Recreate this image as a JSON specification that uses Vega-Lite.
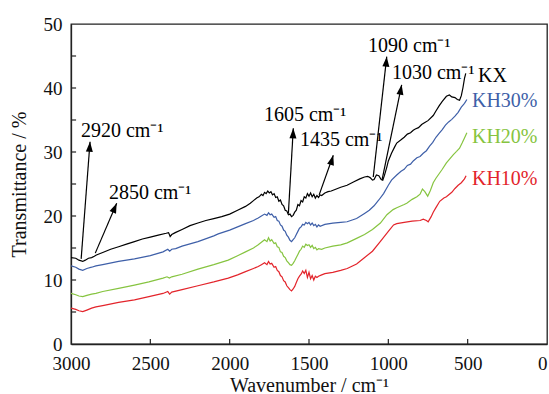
{
"$schema": "https://vega.github.io/schema/vega-lite/v6.json",
"autosize": {"type": "none"},
"padding": {"left": 71, "top": 24, "right": 2, "bottom": 50},
"width": 476,
"height": 320,
"background": "white",
"config": {
  "font": "Liberation Serif",
  "view": {"stroke": "#222", "strokeWidth": 1.3},
  "axis": {"labelFont": "Liberation Serif", "titleFont": "Liberation Serif", "labelFontSize": 19, "titleFontSize": 20, "titleFontWeight": "normal", "labelColor": "#111", "titleColor": "#111", "domainColor": "#222", "domainWidth": 1.3, "ticks": false, "grid": false}
},
"datasets": {
  "spectra": [
{"s":"KX","wn":3000,"t":13.5},{"s":"KX","wn":2970,"t":13.4},{"s":"KX","wn":2950,"t":13.1},{"s":"KX","wn":2926,"t":12.9},{"s":"KX","wn":2910,"t":13.1},{"s":"KX","wn":2890,"t":13.4},{"s":"KX","wn":2870,"t":13.5},{"s":"KX","wn":2853,"t":13.7},{"s":"KX","wn":2840,"t":13.9},{"s":"KX","wn":2800,"t":14.3},{"s":"KX","wn":2750,"t":14.8},{"s":"KX","wn":2700,"t":15.2},{"s":"KX","wn":2650,"t":15.6},{"s":"KX","wn":2600,"t":16.0},{"s":"KX","wn":2550,"t":16.4},{"s":"KX","wn":2500,"t":16.7},{"s":"KX","wn":2450,"t":17.0},{"s":"KX","wn":2400,"t":17.3},{"s":"KX","wn":2385,"t":17.4},{"s":"KX","wn":2375,"t":16.8},{"s":"KX","wn":2365,"t":17.1},{"s":"KX","wn":2343,"t":17.4},{"s":"KX","wn":2300,"t":17.9},{"s":"KX","wn":2250,"t":18.5},{"s":"KX","wn":2200,"t":18.9},{"s":"KX","wn":2150,"t":19.3},{"s":"KX","wn":2100,"t":19.6},{"s":"KX","wn":2050,"t":19.9},{"s":"KX","wn":2000,"t":20.3},{"s":"KX","wn":1950,"t":20.9},{"s":"KX","wn":1900,"t":21.5},{"s":"KX","wn":1870,"t":22.0},{"s":"KX","wn":1850,"t":22.4},{"s":"KX","wn":1830,"t":22.8},{"s":"KX","wn":1815,"t":23.0},{"s":"KX","wn":1800,"t":23.4},{"s":"KX","wn":1790,"t":23.2},{"s":"KX","wn":1780,"t":23.7},{"s":"KX","wn":1770,"t":23.5},{"s":"KX","wn":1760,"t":23.9},{"s":"KX","wn":1750,"t":23.6},{"s":"KX","wn":1740,"t":23.8},{"s":"KX","wn":1730,"t":23.3},{"s":"KX","wn":1720,"t":23.5},{"s":"KX","wn":1710,"t":22.9},{"s":"KX","wn":1700,"t":23.0},{"s":"KX","wn":1690,"t":22.3},{"s":"KX","wn":1680,"t":22.5},{"s":"KX","wn":1670,"t":21.8},{"s":"KX","wn":1660,"t":21.6},{"s":"KX","wn":1650,"t":20.9},{"s":"KX","wn":1640,"t":20.8},{"s":"KX","wn":1630,"t":20.2},{"s":"KX","wn":1620,"t":20.3},{"s":"KX","wn":1610,"t":19.9},{"s":"KX","wn":1600,"t":20.1},{"s":"KX","wn":1590,"t":20.6},{"s":"KX","wn":1580,"t":20.9},{"s":"KX","wn":1570,"t":21.8},{"s":"KX","wn":1560,"t":21.6},{"s":"KX","wn":1550,"t":22.4},{"s":"KX","wn":1540,"t":22.2},{"s":"KX","wn":1530,"t":23.0},{"s":"KX","wn":1520,"t":22.8},{"s":"KX","wn":1510,"t":23.5},{"s":"KX","wn":1500,"t":23.1},{"s":"KX","wn":1490,"t":23.6},{"s":"KX","wn":1480,"t":23.0},{"s":"KX","wn":1470,"t":23.4},{"s":"KX","wn":1460,"t":22.8},{"s":"KX","wn":1450,"t":23.2},{"s":"KX","wn":1440,"t":22.9},{"s":"KX","wn":1430,"t":23.3},{"s":"KX","wn":1420,"t":23.2},{"s":"KX","wn":1400,"t":23.6},{"s":"KX","wn":1380,"t":23.8},{"s":"KX","wn":1360,"t":23.9},{"s":"KX","wn":1340,"t":24.1},{"s":"KX","wn":1300,"t":24.5},{"s":"KX","wn":1260,"t":24.8},{"s":"KX","wn":1220,"t":25.3},{"s":"KX","wn":1180,"t":25.8},{"s":"KX","wn":1150,"t":26.1},{"s":"KX","wn":1130,"t":26.2},{"s":"KX","wn":1115,"t":26.0},{"s":"KX","wn":1100,"t":25.6},{"s":"KX","wn":1090,"t":25.7},{"s":"KX","wn":1075,"t":26.4},{"s":"KX","wn":1060,"t":26.3},{"s":"KX","wn":1045,"t":25.7},{"s":"KX","wn":1035,"t":25.6},{"s":"KX","wn":1025,"t":26.3},{"s":"KX","wn":1010,"t":27.6},{"s":"KX","wn":1000,"t":28.6},{"s":"KX","wn":980,"t":29.8},{"s":"KX","wn":960,"t":30.8},{"s":"KX","wn":947,"t":31.4},{"s":"KX","wn":920,"t":31.9},{"s":"KX","wn":900,"t":32.3},{"s":"KX","wn":880,"t":32.8},{"s":"KX","wn":860,"t":33.0},{"s":"KX","wn":843,"t":33.4},{"s":"KX","wn":830,"t":33.6},{"s":"KX","wn":810,"t":33.8},{"s":"KX","wn":790,"t":34.3},{"s":"KX","wn":770,"t":34.6},{"s":"KX","wn":750,"t":34.9},{"s":"KX","wn":717,"t":35.7},{"s":"KX","wn":700,"t":36.4},{"s":"KX","wn":680,"t":37.2},{"s":"KX","wn":660,"t":37.9},{"s":"KX","wn":634,"t":38.7},{"s":"KX","wn":615,"t":38.9},{"s":"KX","wn":600,"t":38.6},{"s":"KX","wn":580,"t":38.5},{"s":"KX","wn":565,"t":38.2},{"s":"KX","wn":551,"t":38.1},{"s":"KX","wn":540,"t":38.8},{"s":"KX","wn":530,"t":40.0},{"s":"KX","wn":520,"t":41.5},{"s":"KX","wn":512,"t":42.3},
{"s":"KH30%","wn":3000,"t":12.2},{"s":"KH30%","wn":2970,"t":12.0},{"s":"KH30%","wn":2950,"t":11.7},{"s":"KH30%","wn":2926,"t":11.5},{"s":"KH30%","wn":2900,"t":11.8},{"s":"KH30%","wn":2870,"t":12.0},{"s":"KH30%","wn":2843,"t":12.2},{"s":"KH30%","wn":2800,"t":12.4},{"s":"KH30%","wn":2700,"t":12.9},{"s":"KH30%","wn":2600,"t":13.3},{"s":"KH30%","wn":2500,"t":13.8},{"s":"KH30%","wn":2420,"t":14.4},{"s":"KH30%","wn":2390,"t":14.8},{"s":"KH30%","wn":2378,"t":14.5},{"s":"KH30%","wn":2365,"t":14.8},{"s":"KH30%","wn":2340,"t":14.9},{"s":"KH30%","wn":2300,"t":15.3},{"s":"KH30%","wn":2200,"t":16.0},{"s":"KH30%","wn":2100,"t":16.9},{"s":"KH30%","wn":2072,"t":17.2},{"s":"KH30%","wn":2000,"t":17.8},{"s":"KH30%","wn":1950,"t":18.3},{"s":"KH30%","wn":1900,"t":18.8},{"s":"KH30%","wn":1850,"t":19.3},{"s":"KH30%","wn":1820,"t":19.7},{"s":"KH30%","wn":1800,"t":20.0},{"s":"KH30%","wn":1780,"t":20.3},{"s":"KH30%","wn":1765,"t":20.1},{"s":"KH30%","wn":1755,"t":20.5},{"s":"KH30%","wn":1745,"t":20.2},{"s":"KH30%","wn":1735,"t":20.3},{"s":"KH30%","wn":1720,"t":19.8},{"s":"KH30%","wn":1710,"t":19.9},{"s":"KH30%","wn":1700,"t":19.3},{"s":"KH30%","wn":1690,"t":19.2},{"s":"KH30%","wn":1680,"t":18.6},{"s":"KH30%","wn":1670,"t":18.4},{"s":"KH30%","wn":1660,"t":17.8},{"s":"KH30%","wn":1650,"t":17.6},{"s":"KH30%","wn":1640,"t":17.0},{"s":"KH30%","wn":1630,"t":16.7},{"s":"KH30%","wn":1620,"t":16.2},{"s":"KH30%","wn":1610,"t":16.0},{"s":"KH30%","wn":1600,"t":16.3},{"s":"KH30%","wn":1590,"t":16.6},{"s":"KH30%","wn":1580,"t":17.1},{"s":"KH30%","wn":1570,"t":17.6},{"s":"KH30%","wn":1560,"t":18.1},{"s":"KH30%","wn":1550,"t":18.3},{"s":"KH30%","wn":1540,"t":18.7},{"s":"KH30%","wn":1530,"t":18.6},{"s":"KH30%","wn":1520,"t":19.0},{"s":"KH30%","wn":1510,"t":18.8},{"s":"KH30%","wn":1500,"t":19.0},{"s":"KH30%","wn":1490,"t":18.6},{"s":"KH30%","wn":1480,"t":18.9},{"s":"KH30%","wn":1470,"t":18.5},{"s":"KH30%","wn":1460,"t":18.7},{"s":"KH30%","wn":1450,"t":18.3},{"s":"KH30%","wn":1440,"t":18.6},{"s":"KH30%","wn":1430,"t":18.4},{"s":"KH30%","wn":1400,"t":18.7},{"s":"KH30%","wn":1350,"t":18.9},{"s":"KH30%","wn":1300,"t":19.0},{"s":"KH30%","wn":1260,"t":19.1},{"s":"KH30%","wn":1200,"t":19.6},{"s":"KH30%","wn":1150,"t":20.4},{"s":"KH30%","wn":1120,"t":20.9},{"s":"KH30%","wn":1090,"t":21.6},{"s":"KH30%","wn":1060,"t":22.5},{"s":"KH30%","wn":1030,"t":23.5},{"s":"KH30%","wn":1000,"t":24.8},{"s":"KH30%","wn":980,"t":25.6},{"s":"KH30%","wn":947,"t":26.4},{"s":"KH30%","wn":920,"t":27.0},{"s":"KH30%","wn":900,"t":27.3},{"s":"KH30%","wn":880,"t":27.9},{"s":"KH30%","wn":860,"t":28.1},{"s":"KH30%","wn":843,"t":28.6},{"s":"KH30%","wn":820,"t":29.1},{"s":"KH30%","wn":800,"t":29.3},{"s":"KH30%","wn":780,"t":29.8},{"s":"KH30%","wn":760,"t":30.2},{"s":"KH30%","wn":740,"t":30.9},{"s":"KH30%","wn":720,"t":31.5},{"s":"KH30%","wn":700,"t":32.3},{"s":"KH30%","wn":680,"t":32.9},{"s":"KH30%","wn":660,"t":33.5},{"s":"KH30%","wn":640,"t":34.2},{"s":"KH30%","wn":620,"t":34.7},{"s":"KH30%","wn":600,"t":35.1},{"s":"KH30%","wn":580,"t":35.6},{"s":"KH30%","wn":560,"t":36.2},{"s":"KH30%","wn":540,"t":37.0},{"s":"KH30%","wn":520,"t":37.6},{"s":"KH30%","wn":505,"t":38.2},
{"s":"KH20%","wn":3000,"t":7.9},{"s":"KH20%","wn":2970,"t":7.7},{"s":"KH20%","wn":2950,"t":7.5},{"s":"KH20%","wn":2926,"t":7.4},{"s":"KH20%","wn":2900,"t":7.6},{"s":"KH20%","wn":2870,"t":7.8},{"s":"KH20%","wn":2843,"t":7.9},{"s":"KH20%","wn":2800,"t":8.2},{"s":"KH20%","wn":2700,"t":8.7},{"s":"KH20%","wn":2600,"t":9.2},{"s":"KH20%","wn":2509,"t":9.7},{"s":"KH20%","wn":2420,"t":10.3},{"s":"KH20%","wn":2395,"t":10.5},{"s":"KH20%","wn":2380,"t":10.3},{"s":"KH20%","wn":2365,"t":10.5},{"s":"KH20%","wn":2300,"t":10.9},{"s":"KH20%","wn":2200,"t":11.7},{"s":"KH20%","wn":2100,"t":12.4},{"s":"KH20%","wn":2009,"t":13.1},{"s":"KH20%","wn":1950,"t":13.8},{"s":"KH20%","wn":1900,"t":14.4},{"s":"KH20%","wn":1850,"t":15.0},{"s":"KH20%","wn":1820,"t":15.5},{"s":"KH20%","wn":1800,"t":15.9},{"s":"KH20%","wn":1780,"t":16.3},{"s":"KH20%","wn":1765,"t":16.0},{"s":"KH20%","wn":1755,"t":16.6},{"s":"KH20%","wn":1745,"t":16.1},{"s":"KH20%","wn":1735,"t":16.3},{"s":"KH20%","wn":1720,"t":15.7},{"s":"KH20%","wn":1710,"t":15.8},{"s":"KH20%","wn":1700,"t":15.2},{"s":"KH20%","wn":1690,"t":15.1},{"s":"KH20%","wn":1680,"t":14.4},{"s":"KH20%","wn":1670,"t":14.3},{"s":"KH20%","wn":1660,"t":13.7},{"s":"KH20%","wn":1650,"t":13.5},{"s":"KH20%","wn":1640,"t":13.0},{"s":"KH20%","wn":1630,"t":12.7},{"s":"KH20%","wn":1620,"t":12.4},{"s":"KH20%","wn":1610,"t":12.3},{"s":"KH20%","wn":1600,"t":12.6},{"s":"KH20%","wn":1590,"t":13.0},{"s":"KH20%","wn":1580,"t":13.5},{"s":"KH20%","wn":1570,"t":14.0},{"s":"KH20%","wn":1560,"t":14.5},{"s":"KH20%","wn":1550,"t":14.8},{"s":"KH20%","wn":1540,"t":15.3},{"s":"KH20%","wn":1530,"t":15.1},{"s":"KH20%","wn":1520,"t":15.6},{"s":"KH20%","wn":1510,"t":15.4},{"s":"KH20%","wn":1500,"t":15.5},{"s":"KH20%","wn":1490,"t":15.1},{"s":"KH20%","wn":1480,"t":15.4},{"s":"KH20%","wn":1470,"t":14.9},{"s":"KH20%","wn":1460,"t":15.1},{"s":"KH20%","wn":1450,"t":14.7},{"s":"KH20%","wn":1440,"t":14.9},{"s":"KH20%","wn":1420,"t":14.8},{"s":"KH20%","wn":1400,"t":15.0},{"s":"KH20%","wn":1350,"t":15.3},{"s":"KH20%","wn":1300,"t":15.5},{"s":"KH20%","wn":1259,"t":15.8},{"s":"KH20%","wn":1200,"t":16.5},{"s":"KH20%","wn":1150,"t":17.1},{"s":"KH20%","wn":1100,"t":17.9},{"s":"KH20%","wn":1050,"t":18.9},{"s":"KH20%","wn":1009,"t":20.2},{"s":"KH20%","wn":970,"t":21.0},{"s":"KH20%","wn":947,"t":21.3},{"s":"KH20%","wn":900,"t":21.8},{"s":"KH20%","wn":884,"t":22.0},{"s":"KH20%","wn":850,"t":22.6},{"s":"KH20%","wn":820,"t":23.0},{"s":"KH20%","wn":800,"t":23.4},{"s":"KH20%","wn":785,"t":24.2},{"s":"KH20%","wn":770,"t":23.8},{"s":"KH20%","wn":752,"t":23.1},{"s":"KH20%","wn":735,"t":24.0},{"s":"KH20%","wn":717,"t":25.2},{"s":"KH20%","wn":700,"t":25.9},{"s":"KH20%","wn":680,"t":26.6},{"s":"KH20%","wn":660,"t":27.3},{"s":"KH20%","wn":634,"t":28.3},{"s":"KH20%","wn":610,"t":29.0},{"s":"KH20%","wn":590,"t":29.6},{"s":"KH20%","wn":570,"t":30.1},{"s":"KH20%","wn":551,"t":30.6},{"s":"KH20%","wn":535,"t":31.4},{"s":"KH20%","wn":520,"t":32.2},{"s":"KH20%","wn":505,"t":33.0},
{"s":"KH10%","wn":3000,"t":5.6},{"s":"KH10%","wn":2970,"t":5.4},{"s":"KH10%","wn":2950,"t":5.2},{"s":"KH10%","wn":2926,"t":5.05},{"s":"KH10%","wn":2900,"t":5.3},{"s":"KH10%","wn":2870,"t":5.6},{"s":"KH10%","wn":2843,"t":5.8},{"s":"KH10%","wn":2800,"t":6.0},{"s":"KH10%","wn":2700,"t":6.5},{"s":"KH10%","wn":2600,"t":6.9},{"s":"KH10%","wn":2509,"t":7.4},{"s":"KH10%","wn":2420,"t":7.9},{"s":"KH10%","wn":2390,"t":8.2},{"s":"KH10%","wn":2378,"t":7.8},{"s":"KH10%","wn":2365,"t":8.1},{"s":"KH10%","wn":2300,"t":8.5},{"s":"KH10%","wn":2200,"t":9.1},{"s":"KH10%","wn":2100,"t":9.7},{"s":"KH10%","wn":2009,"t":10.3},{"s":"KH10%","wn":1950,"t":10.8},{"s":"KH10%","wn":1900,"t":11.3},{"s":"KH10%","wn":1850,"t":11.8},{"s":"KH10%","wn":1820,"t":12.1},{"s":"KH10%","wn":1800,"t":12.4},{"s":"KH10%","wn":1780,"t":12.7},{"s":"KH10%","wn":1765,"t":12.4},{"s":"KH10%","wn":1755,"t":12.9},{"s":"KH10%","wn":1745,"t":12.5},{"s":"KH10%","wn":1735,"t":12.6},{"s":"KH10%","wn":1720,"t":12.0},{"s":"KH10%","wn":1710,"t":12.1},{"s":"KH10%","wn":1700,"t":11.5},{"s":"KH10%","wn":1690,"t":11.3},{"s":"KH10%","wn":1680,"t":10.7},{"s":"KH10%","wn":1670,"t":10.5},{"s":"KH10%","wn":1660,"t":9.9},{"s":"KH10%","wn":1650,"t":9.7},{"s":"KH10%","wn":1640,"t":9.1},{"s":"KH10%","wn":1630,"t":8.8},{"s":"KH10%","wn":1620,"t":8.5},{"s":"KH10%","wn":1610,"t":8.3},{"s":"KH10%","wn":1600,"t":8.6},{"s":"KH10%","wn":1590,"t":9.0},{"s":"KH10%","wn":1580,"t":9.6},{"s":"KH10%","wn":1570,"t":10.2},{"s":"KH10%","wn":1560,"t":10.6},{"s":"KH10%","wn":1550,"t":10.9},{"s":"KH10%","wn":1540,"t":11.4},{"s":"KH10%","wn":1530,"t":11.0},{"s":"KH10%","wn":1520,"t":11.5},{"s":"KH10%","wn":1510,"t":10.4},{"s":"KH10%","wn":1500,"t":11.2},{"s":"KH10%","wn":1490,"t":10.2},{"s":"KH10%","wn":1480,"t":10.7},{"s":"KH10%","wn":1470,"t":10.0},{"s":"KH10%","wn":1460,"t":10.6},{"s":"KH10%","wn":1450,"t":10.4},{"s":"KH10%","wn":1440,"t":10.6},{"s":"KH10%","wn":1420,"t":10.8},{"s":"KH10%","wn":1400,"t":11.0},{"s":"KH10%","wn":1350,"t":11.2},{"s":"KH10%","wn":1300,"t":11.5},{"s":"KH10%","wn":1259,"t":11.8},{"s":"KH10%","wn":1200,"t":12.5},{"s":"KH10%","wn":1155,"t":13.4},{"s":"KH10%","wn":1100,"t":14.5},{"s":"KH10%","wn":1051,"t":16.0},{"s":"KH10%","wn":1000,"t":17.6},{"s":"KH10%","wn":967,"t":18.6},{"s":"KH10%","wn":947,"t":18.8},{"s":"KH10%","wn":900,"t":19.0},{"s":"KH10%","wn":850,"t":19.2},{"s":"KH10%","wn":800,"t":19.3},{"s":"KH10%","wn":780,"t":19.5},{"s":"KH10%","wn":760,"t":19.3},{"s":"KH10%","wn":749,"t":19.1},{"s":"KH10%","wn":730,"t":19.9},{"s":"KH10%","wn":717,"t":20.6},{"s":"KH10%","wn":700,"t":21.3},{"s":"KH10%","wn":676,"t":22.3},{"s":"KH10%","wn":650,"t":22.8},{"s":"KH10%","wn":634,"t":23.0},{"s":"KH10%","wn":600,"t":23.7},{"s":"KH10%","wn":580,"t":24.3},{"s":"KH10%","wn":560,"t":24.8},{"s":"KH10%","wn":540,"t":25.2},{"s":"KH10%","wn":520,"t":25.8},{"s":"KH10%","wn":510,"t":26.3}
  ],
  "seriesLabels": [
    {"s": "KX", "wn": 435, "t": 41.0},
    {"s": "KH30%", "wn": 473, "t": 37.1},
    {"s": "KH20%", "wn": 473, "t": 31.4},
    {"s": "KH10%", "wn": 473, "t": 24.8}
  ],
  "notes": [
    {"label": "2920 cm⁻¹", "wn": 2937, "t": 32.3},
    {"label": "2850 cm⁻¹", "wn": 2761, "t": 22.65},
    {"label": "1605 cm⁻¹", "wn": 1784, "t": 34.8},
    {"label": "1435 cm⁻¹", "wn": 1557, "t": 30.9},
    {"label": "1090 cm⁻¹", "wn": 1128, "t": 45.7},
    {"label": "1030 cm⁻¹", "wn": 977, "t": 41.4}
  ],
  "arrows": [
    {"wn1": 2936, "t1": 13.3, "wn2": 2880, "t2": 31.6, "angle": 4},
    {"wn1": 2847, "t1": 14.2, "wn2": 2712, "t2": 22.0, "angle": 23},
    {"wn1": 1630, "t1": 20.4, "wn2": 1599, "t2": 33.7, "angle": 2},
    {"wn1": 1436, "t1": 23.3, "wn2": 1347, "t2": 29.5, "angle": 16},
    {"wn1": 1095, "t1": 26.1, "wn2": 1010, "t2": 44.9, "angle": 5},
    {"wn1": 1040, "t1": 25.6, "wn2": 916, "t2": 40.5, "angle": 10}
  ],
  "xticks": [{"v": 2500}, {"v": 2000}, {"v": 1500}, {"v": 1000}, {"v": 500}],
  "yticks": [{"v": 5}, {"v": 10}, {"v": 15}, {"v": 20}, {"v": 25}, {"v": 30}, {"v": 35}, {"v": 40}, {"v": 45}]
},
"layer": [
  {
    "data": {"name": "spectra"},
    "mark": {"type": "line", "strokeWidth": 1.2, "clip": true},
    "encoding": {
      "x": {"field": "wn", "type": "quantitative", "scale": {"domain": [3000, 0], "nice": false, "zero": false},
            "axis": {"values": [3000, 2500, 2000, 1500, 1000, 500, 0], "format": "d", "title": "Wavenumber / cm⁻¹", "labelPadding": 10, "titlePadding": 2, "labelFlush": false,
                     "labelAlign": {"condition": {"test": "datum.value == 0", "value": "right"}, "value": "center"}}},
      "y": {"field": "t", "type": "quantitative", "scale": {"domain": [0, 50], "nice": false},
            "axis": {"values": [0, 5, 10, 15, 20, 25, 30, 35, 40, 45, 50], "format": "d", "title": "Transmittance / %", "labelPadding": 9, "titlePadding": 14}},
      "color": {"field": "s", "type": "nominal", "scale": {"domain": ["KX", "KH30%", "KH20%", "KH10%"], "range": ["#000000", "#3e5fa8", "#86c440", "#e3242b"]}, "legend": null},
      "order": {"field": "wn", "type": "quantitative"}
    }
  },
  {
    "data": {"name": "xticks"},
    "mark": {"type": "rule", "color": "#222", "strokeWidth": 1.2},
    "encoding": {
      "x": {"field": "v", "type": "quantitative"},
      "y": {"datum": 0},
      "y2": {"datum": 0.8}
    }
  },
  {
    "data": {"name": "yticks"},
    "mark": {"type": "rule", "color": "#222", "strokeWidth": 1.2},
    "encoding": {
      "y": {"field": "v", "type": "quantitative"},
      "x": {"datum": 3000},
      "x2": {"datum": 2968}
    }
  },
  {
    "data": {"name": "arrows"},
    "mark": {"type": "rule", "color": "#000", "strokeWidth": 1.2},
    "encoding": {
      "x": {"field": "wn1", "type": "quantitative"},
      "y": {"field": "t1", "type": "quantitative"},
      "x2": {"field": "wn2"},
      "y2": {"field": "t2"}
    }
  },
  {
    "data": {"name": "arrows"},
    "mark": {"type": "point", "shape": "M0,0L-0.7,2L0.7,2Z", "filled": true, "color": "#000", "size": 100, "opacity": 1},
    "encoding": {
      "x": {"field": "wn2", "type": "quantitative"},
      "y": {"field": "t2", "type": "quantitative"},
      "angle": {"field": "angle", "type": "quantitative", "scale": null}
    }
  },
  {
    "data": {"name": "notes"},
    "mark": {"type": "text", "align": "left", "baseline": "alphabetic", "font": "Liberation Serif", "fontSize": 20, "color": "#000"},
    "encoding": {
      "x": {"field": "wn", "type": "quantitative"},
      "y": {"field": "t", "type": "quantitative"},
      "text": {"field": "label"}
    }
  },
  {
    "data": {"name": "seriesLabels"},
    "mark": {"type": "text", "align": "left", "baseline": "alphabetic", "font": "Liberation Serif", "fontSize": 20},
    "encoding": {
      "x": {"field": "wn", "type": "quantitative"},
      "y": {"field": "t", "type": "quantitative"},
      "text": {"field": "s"},
      "color": {"field": "s", "type": "nominal", "legend": null}
    }
  }
]
}
